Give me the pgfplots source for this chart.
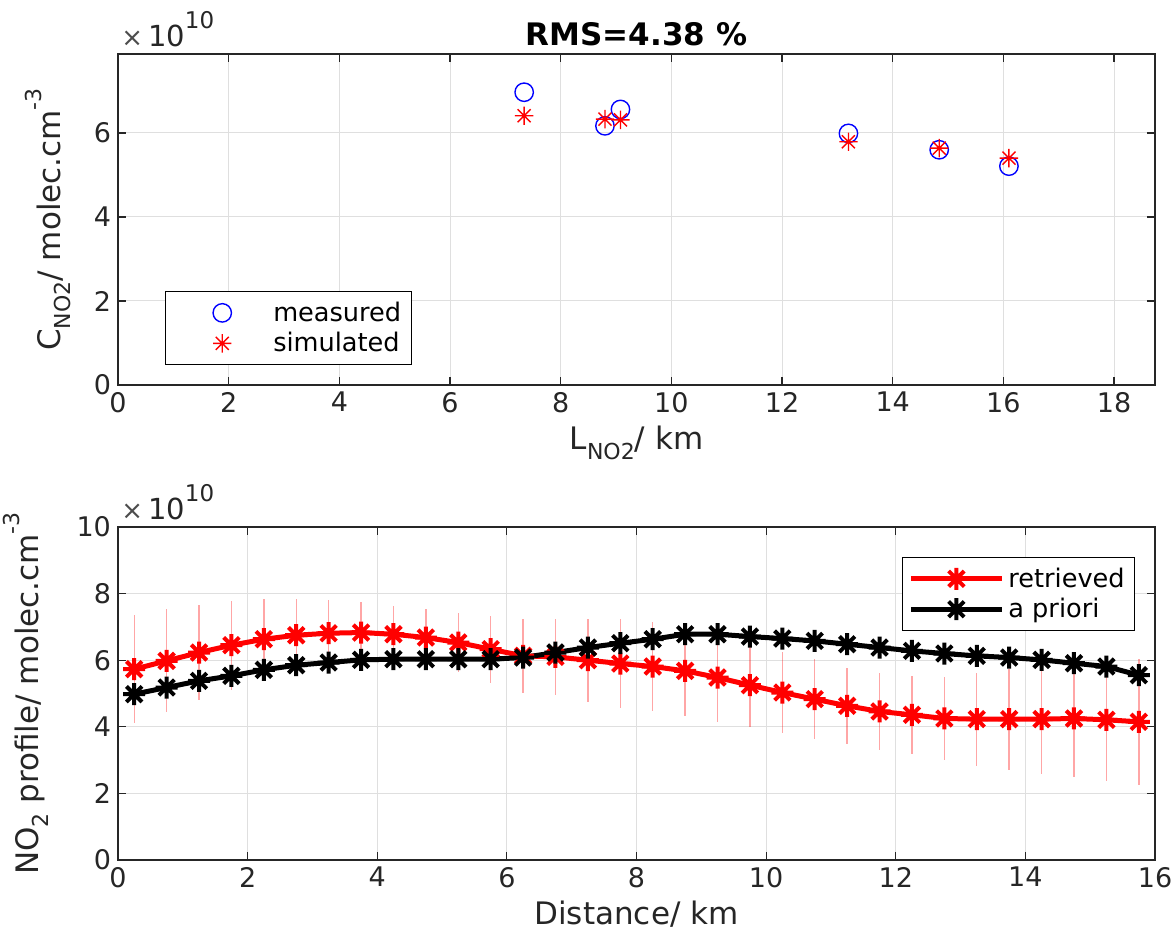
\documentclass[border=0pt]{standalone}
\usepackage{fontspec}
\setmainfont{DejaVu Sans}
\usepackage{pgfplots}
\pgfplotsset{compat=1.18}

\pgfdeclareplotmark{mstar}{%
  \pgfpathmoveto{\pgfqpoint{-\pgfplotmarksize}{0pt}}\pgfpathlineto{\pgfqpoint{\pgfplotmarksize}{0pt}}%
  \pgfpathmoveto{\pgfqpoint{0pt}{-\pgfplotmarksize}}\pgfpathlineto{\pgfqpoint{0pt}{\pgfplotmarksize}}%
  \pgfpathmoveto{\pgfqpoint{-0.7071\pgfplotmarksize}{-0.7071\pgfplotmarksize}}\pgfpathlineto{\pgfqpoint{0.7071\pgfplotmarksize}{0.7071\pgfplotmarksize}}%
  \pgfpathmoveto{\pgfqpoint{-0.7071\pgfplotmarksize}{0.7071\pgfplotmarksize}}\pgfpathlineto{\pgfqpoint{0.7071\pgfplotmarksize}{-0.7071\pgfplotmarksize}}%
  \pgfusepathqstroke}

\newcommand{\msub}[1]{\raisebox{-0.32em}{\fontsize{11}{12}\selectfont #1}}
\newcommand{\msup}[1]{\raisebox{0.62em}{\fontsize{11}{12}\selectfont #1}}
\newcommand{\timesten}{{\fontsize{13}{15}\selectfont\color{black!70}×}\,10\raisebox{0.6em}{\fontsize{11.5}{13}\selectfont 10}}

\pgfplotstableread{
x y
7.34 6.97
8.80 6.17
9.08 6.56
13.20 5.99
14.84 5.60
16.10 5.21
}\measured
\pgfplotstableread{
x y
7.34 6.41
8.80 6.33
9.08 6.31
13.20 5.79
14.84 5.64
16.10 5.40
}\simulated

\pgfplotstableread{
x y e
0.25 5.73 1.62
0.75 5.98 1.55
1.25 6.23 1.44
1.75 6.45 1.33
2.25 6.63 1.22
2.75 6.75 1.10
3.25 6.81 1.00
3.75 6.83 0.92
4.25 6.78 0.85
4.75 6.68 0.85
5.25 6.53 0.88
5.75 6.33 1.00
6.25 6.13 1.12
6.75 6.10 1.15
7.25 6.00 1.25
7.75 5.90 1.33
8.25 5.81 1.35
8.75 5.68 1.35
9.25 5.48 1.35
9.75 5.25 1.27
10.25 5.03 1.22
10.75 4.83 1.20
11.25 4.63 1.15
11.75 4.46 1.15
12.25 4.36 1.18
12.75 4.25 1.25
13.25 4.23 1.40
13.75 4.23 1.52
14.25 4.23 1.65
14.75 4.25 1.77
15.25 4.21 1.83
15.75 4.15 1.90
}\retrieved

\pgfplotstableread{
x y
0.25 4.98
0.75 5.18
1.25 5.38
1.75 5.53
2.25 5.71
2.75 5.85
3.25 5.93
3.75 6.01
4.25 6.03
4.75 6.03
5.25 6.03
5.75 6.03
6.25 6.08
6.75 6.23
7.25 6.38
7.75 6.51
8.25 6.63
8.75 6.78
9.25 6.78
9.75 6.71
10.25 6.65
10.75 6.58
11.25 6.48
11.75 6.38
12.25 6.28
12.75 6.20
13.25 6.13
13.75 6.08
14.25 6.01
14.75 5.91
15.25 5.81
15.75 5.55
}\apriori

\pgfplotsset{
  myaxis/.style={
    scale only axis,
    clip=false,
    width=518.5pt,
    axis line style={draw=black!85, line width=0.6pt},
    tick style={draw=black!85, line width=0.6pt},
    tick align=inside,
    major tick length=4pt,
    grid=major,
    grid style={draw=gray!25, line width=0.5pt},
    tick label style={font=\fontsize{13.5}{16}\selectfont, text=black!85},
    label style={font=\fontsize{15.5}{18}\selectfont, text=black!85},
    /pgf/number format/assume math mode=true,
    legend style={font=\fontsize{12.8}{15}\selectfont, draw=black, line width=0.6pt, inner sep=3pt, row sep=0pt},
    legend cell align=left,
  }
}

\begin{document}
\begin{tikzpicture}
\begin{axis}[myaxis,
  at={(0,0)}, anchor=south west,
  height=165.5pt,
  xmin=0, xmax=18.74, ymin=0, ymax=7.88,
  xtick={0,2,...,18}, ytick={0,2,4,6},
  xlabel={L\msub{NO2}/ km},
  ylabel={C\msub{NO2}/ molec.cm\msup{-3}},
  ylabel style={yshift=4.5pt},
  title={RMS=4.38 \%},
  title style={font=\fontsize{15.5}{18}\selectfont\bfseries, yshift=-5.5pt},
  legend style={at={(0.045,0.06)}, anchor=south west},
  legend image code/.code={\path[draw=none] (0pt,0pt) -- (49pt,0pt); \draw[#1] plot coordinates {(25.5pt,0pt)};},
]
\addplot[only marks, mark=o, mark size=4.6pt, blue, line width=0.7pt] table[x=x,y=y] {\measured};
\addlegendentry{measured}
\addplot[only marks, mark=mstar, mark size=4.6pt, red, line width=0.7pt] table[x=x,y=y] {\simulated};
\addlegendentry{simulated}
\node[anchor=south west, inner sep=0pt, font=\fontsize{14.5}{17}\selectfont, text=black!85] at (rel axis cs:0,1) [yshift=3.5pt, xshift=1.5pt] {\timesten};
\end{axis}

\begin{axis}[myaxis,
  at={(0,-237.5pt)}, anchor=south west,
  height=166.5pt,
  xmin=0, xmax=16, ymin=0, ymax=10,
  xtick={0,2,...,16}, ytick={0,2,...,10},
  xlabel={Distance/ km},
  ylabel={NO\msub{2} profile/ molec.cm\msup{-3}},
  ylabel style={yshift=7pt},
  legend style={at={(0.981,0.91)}, anchor=north east},
  legend image code/.code={\draw[mark repeat=2, mark phase=2] plot coordinates {(0cm,0cm) (0.8cm,0cm) (1.6cm,0cm)};},
]
\addplot[red, line width=2.5pt, mark=mstar, mark size=5.5pt, mark options={line width=2pt}] table[x=x,y=y] {\retrieved};
\addlegendentry{retrieved}
\addplot[black, line width=2.5pt, mark=mstar, mark size=5.5pt, mark options={line width=2pt}] table[x=x,y=y] {\apriori};
\addlegendentry{a priori}
\addplot[draw=none, mark=none, forget plot,
  error bars/.cd, y dir=both, y explicit,
  error mark=none,
  error bar style={draw=red, draw opacity=0.35, line width=0.7pt}]
  table[x=x, y=y, y error=e] {\retrieved};
\node[anchor=south west, inner sep=0pt, font=\fontsize{14.5}{17}\selectfont, text=black!85] at (rel axis cs:0,1) [yshift=3.5pt, xshift=1.5pt] {\timesten};
\end{axis}
\pgfresetboundingbox
\path (-59pt,-277.5pt) rectangle (529pt,192.5pt);
\end{tikzpicture}
\end{document}
